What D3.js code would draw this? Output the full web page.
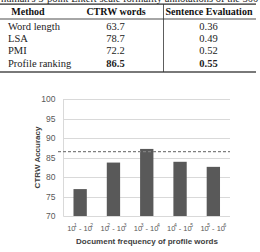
<!DOCTYPE html>
<html><head><meta charset="utf-8">
<script src="https://cdn.jsdelivr.net/npm/d3@7"></script>
<style>body{margin:0;background:#fff;}svg{display:block;}</style>
</head><body>
<script>
const methods = ["Word length","LSA","PMI","Profile ranking"];
const ctrwWords = ["63.7","78.7","72.2","86.5"];
const sentenceEval = ["0.36","0.49","0.52","0.55"];
const boldRow = 3;
const binLow = [1,2,3,4,5];
const binHigh = [2,3,4,5,6];
const accuracy = [76.9, 83.7, 87.2, 83.9, 82.6];
const baseline = 86.5;
const yTicks = [70,75,80,85,90,95,100];

const W=260,H=252;
const svg=d3.select("body").append("svg").attr("width",W).attr("height",H);

// ---- Table ----
const serif="'Liberation Serif','Times New Roman',serif";
svg.append("text").attr("x",1).attr("y",2).attr("font-family",serif).attr("font-size",10.5).attr("fill","#222")
  .text("human's 5-point Likert scale formality annotations of the 500");
svg.append("rect").attr("x",0).attr("y",3.5).attr("width",256).attr("height",1.2).attr("fill","#222");
svg.append("rect").attr("x",0).attr("y",18.6).attr("width",256).attr("height",0.8).attr("fill","#222");
svg.append("rect").attr("x",0).attr("y",71.4).attr("width",256).attr("height",1.2).attr("fill","#222");
svg.append("line").attr("x1",163.5).attr("x2",163.5).attr("y1",4).attr("y2",72).attr("stroke","#333").attr("stroke-width",0.8);

const hdr=svg.append("g").attr("font-family",serif).attr("font-size",10).attr("font-weight","bold").attr("fill","#111");
hdr.append("text").attr("x",28).attr("y",15).attr("text-anchor","middle").text("Method");
hdr.append("text").attr("x",116).attr("y",15).attr("text-anchor","middle").text("CTRW words");
hdr.append("text").attr("x",209).attr("y",15).attr("text-anchor","middle").text("Sentence Evaluation");

const rowY = d3.scaleLinear().domain([0,3]).range([30,66.5]);
const rows=svg.append("g").attr("font-family",serif).attr("font-size",10.5).attr("fill","#222");
methods.forEach((m,i)=>{
  const fw = i===boldRow?"bold":"normal";
  rows.append("text").attr("x",8).attr("y",rowY(i)).text(m);
  rows.append("text").attr("x",115.5).attr("y",rowY(i)).attr("text-anchor","middle").attr("font-weight",fw).text(ctrwWords[i]);
  rows.append("text").attr("x",208.5).attr("y",rowY(i)).attr("text-anchor","middle").attr("font-weight",fw).text(sentenceEval[i]);
});

// ---- Chart ----
const sans="'Liberation Sans',Arial,sans-serif";
const x=d3.scaleBand().domain(d3.range(accuracy.length)).range([63.5,230]).paddingInner(0.6).paddingOuter(0.3);
const y=d3.scaleLinear().domain([70,100]).range([216,99]);

const g=svg.append("g");
g.selectAll("line.grid").data(yTicks).join("line").attr("class","grid")
  .attr("x1",63.5).attr("x2",230).attr("y1",d=>Math.round(y(d))+0.5).attr("y2",d=>Math.round(y(d))+0.5)
  .attr("stroke","#d9d9d9").attr("stroke-width",1);
g.append("line").attr("x1",63.5).attr("x2",63.5).attr("y1",y(100)).attr("y2",y(70)+0.5).attr("stroke","#d9d9d9");

g.selectAll("rect.bar").data(accuracy).join("rect").attr("class","bar")
  .attr("x",(d,i)=>x(i)).attr("width",x.bandwidth())
  .attr("y",d=>y(d)).attr("height",d=>y(70)-y(d)).attr("fill","#595959");

g.append("line").attr("x1",58).attr("x2",230).attr("y1",y(baseline)).attr("y2",y(baseline))
  .attr("stroke","#7f7f7f").attr("stroke-width",1.3).attr("stroke-dasharray","3,2");

g.selectAll("text.yt").data(yTicks).join("text").attr("class","yt")
  .attr("x",55.5).attr("y",d=>y(d)+3).attr("text-anchor","end")
  .attr("font-family",sans).attr("font-size",8.5).attr("fill","#595959").text(d=>d);

const xl=g.selectAll("text.xt").data(binLow).join("text").attr("class","xt")
  .attr("x",(d,i)=>x(i)+x.bandwidth()/2).attr("y",231).attr("text-anchor","middle")
  .attr("font-family",sans).attr("font-size",7.5).attr("fill","#595959");
xl.each(function(d,i){
  const t=d3.select(this);
  t.append("tspan").text("10");
  t.append("tspan").attr("dx",-1.5).attr("dy",-4).attr("font-size",5).text(binLow[i]);
  t.append("tspan").attr("dy",4).text(" - 10");
  t.append("tspan").attr("dx",-1.5).attr("dy",-4).attr("font-size",5).text(binHigh[i]);
});

g.append("text").attr("x",147).attr("y",244).attr("text-anchor","middle")
  .attr("font-family",sans).attr("font-size",8).attr("font-weight","bold").attr("fill","#404040")
  .text("Document frequency of profile words");
g.append("text").attr("transform","translate(39.5,157.5) rotate(-90)").attr("text-anchor","middle")
  .attr("font-family",sans).attr("font-size",8).attr("font-weight","bold").attr("fill","#404040")
  .text("CTRW Accuracy");
</script>
</body></html>
